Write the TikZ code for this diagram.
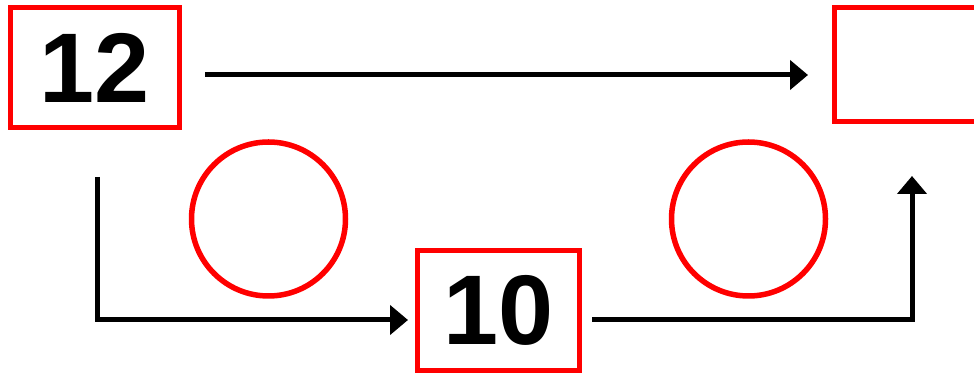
\documentclass[tikz,border=0pt]{standalone}
\usepackage{fontspec}
\setmainfont{Liberation Sans}
\usetikzlibrary{arrows.meta,calc}
\begin{document}
\begin{tikzpicture}[x=1pt,y=1pt,
  redbox/.style={draw=red,line width=5.5pt,inner sep=0pt,font=\fontsize{99}{99}\selectfont\bfseries},
  redcirc/.style={draw=red,line width=5.5pt,circle,minimum size=154pt,inner sep=0pt},
  arr/.style={line width=5pt,-{Triangle[length=18pt,width=29pt]}}]
\useasboundingbox (0,0) rectangle (974,374);
\clip (0,0) rectangle (974,374);
\node[redbox,minimum width=169pt,minimum height=120pt] (a) at (95,306.5) {12};
\node[redbox,minimum width=150pt,minimum height=114pt] (r) at (909.5,309.5) {};
\node[redbox,minimum width=162pt,minimum height=120pt] (b) at (498.5,63.5) {10};
\node[redcirc] (c1) at (268.5,155) {};
\node[redcirc] (c2) at (748.5,155) {};
\coordinate (s1) at (205,299);
\coordinate (e1) at (808,299);
\coordinate (s2) at (97,197);
\coordinate (k2) at (97,54);
\coordinate (e2) at (408,54);
\coordinate (s3) at (592,54);
\coordinate (k3) at (912,54);
\coordinate (e3) at (912,198);
\draw[arr] (s1) -- (e1);
\draw[arr] (s2) -- (k2) -- (e2);
\draw[arr] (s3) -- (k3) -- (e3);
\end{tikzpicture}
\end{document}
